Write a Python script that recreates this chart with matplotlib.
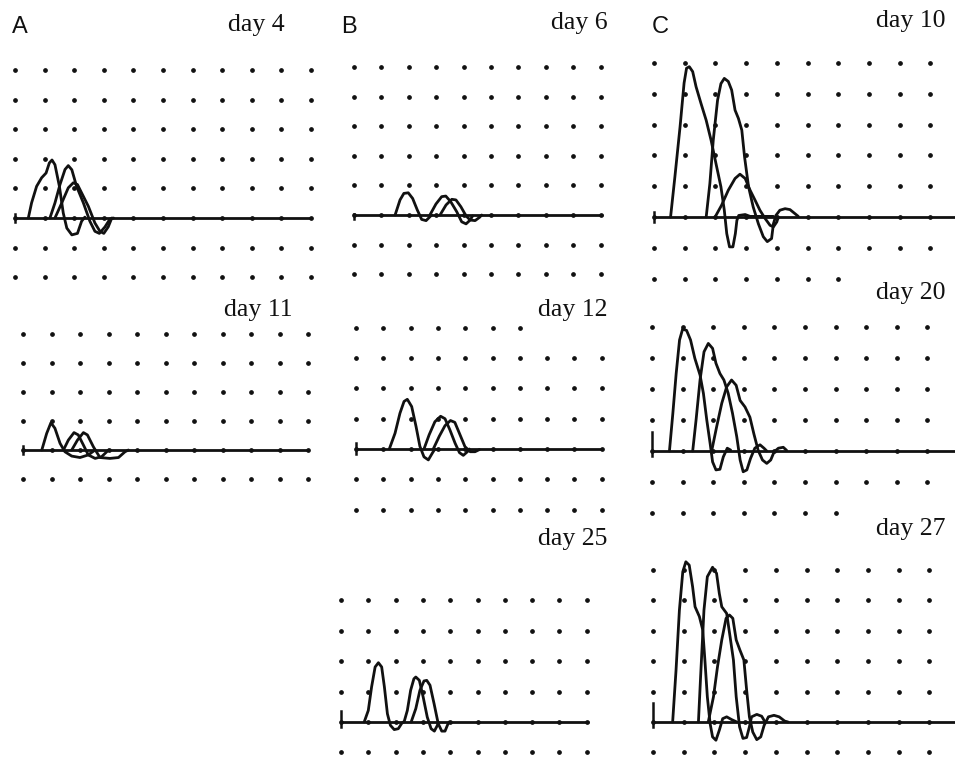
import matplotlib
matplotlib.use("Agg")
import matplotlib.pyplot as plt
import numpy as np

# ---------------- data: traces as (time-grid, amplitude-grid) points
D4_T1 = [(0.45,0),(0.56,0.51),(0.73,1.07),(0.9,1.36),(1.05,1.52),(1.16,1.86),(1.25,1.96),(1.35,1.8),(1.5,1.07),(1.63,0.17),(1.75,-0.34),(1.92,-0.57),(2.11,-0.52),(2.25,-0.11),(2.36,0.03)]
D4_T2 = [(1.18,0),(1.35,0.51),(1.52,1.13),(1.69,1.64),(1.8,1.77),(1.92,1.63),(2.08,1.07),(2.31,0.51),(2.53,-0.11),(2.7,-0.45),(2.85,-0.52),(3.04,-0.3),(3.21,-0.03),(3.33,0)]
D4_T3 = [(1.35,0),(1.58,0.51),(1.8,1.02),(1.97,1.19),(2.11,1.13),(2.31,0.73),(2.48,0.39),(2.7,-0.17),(2.87,-0.45),(3.0,-0.52),(3.15,-0.3),(3.27,0)]

D11_T1 = [(0.66,0),(0.83,0.57),(0.98,0.94),(1.12,0.75),(1.3,0.23),(1.47,-0.06),(1.71,-0.21),(2.0,-0.26),(2.29,-0.17),(2.53,0)]
D11_T2 = [(1.42,0),(1.59,0.34),(1.79,0.6),(1.94,0.52),(2.12,0.17),(2.29,-0.17),(2.53,-0.29),(2.76,-0.23),(2.94,-0.06),(3.0,0)]
D11_T3 = [(1.71,0),(1.91,0.34),(2.12,0.6),(2.26,0.52),(2.47,0.11),(2.7,-0.26),(3.05,-0.29),(3.35,-0.26),(3.58,-0.06),(3.7,0)]

D6_T1 = [(1.5,0),(1.68,0.51),(1.82,0.73),(1.98,0.75),(2.14,0.56),(2.31,0.17),(2.47,-0.15),(2.63,-0.19),(2.77,-0.06),(2.83,0)]
D6_T2 = [(2.77,0),(2.99,0.37),(3.2,0.62),(3.35,0.64),(3.53,0.45),(3.75,0.11),(3.93,-0.23),(4.09,-0.3),(4.24,-0.17),(4.33,-0.03)]
D6_T3 = [(3.14,0),(3.36,0.34),(3.57,0.53),(3.72,0.51),(3.9,0.28),(4.09,-0.03),(4.24,-0.17),(4.42,-0.19),(4.58,-0.08),(4.66,0)]

D12_T1 = [(1.22,0),(1.43,0.52),(1.61,1.18),(1.76,1.57),(1.88,1.64),(2.04,1.4),(2.2,0.74),(2.34,0.09),(2.49,-0.26),(2.65,-0.36),(2.8,-0.13),(2.89,0)]
D12_T2 = [(2.49,0),(2.68,0.47),(2.89,0.9),(3.1,1.08),(3.26,1.0),(3.44,0.63),(3.63,0.19),(3.79,-0.12),(3.93,-0.21),(4.08,-0.09),(4.15,0)]
D12_T3 = [(2.83,0),(3.05,0.42),(3.26,0.77),(3.46,0.94),(3.62,0.88),(3.81,0.47),(3.99,0.08),(4.18,-0.09),(4.36,-0.09),(4.52,-0.02)]

D25_T1 = [(0.85,0),(1.0,0.38),(1.12,1.15),(1.25,1.81),(1.37,1.95),(1.49,1.81),(1.59,1.15),(1.7,0.27),(1.81,-0.11),(1.95,-0.25),(2.1,-0.22),(2.22,-0.05),(2.28,0)]
D25_T2 = [(2.31,0),(2.43,0.38),(2.55,1.04),(2.67,1.42),(2.74,1.48),(2.87,1.37),(3.01,0.82),(3.16,0.16),(3.3,-0.22),(3.42,-0.3),(3.53,-0.11),(3.56,0)]
D25_T3 = [(2.57,0),(2.74,0.44),(2.89,1.04),(3.04,1.35),(3.14,1.37),(3.26,1.21),(3.41,0.6),(3.56,-0.05),(3.69,-0.3),(3.81,-0.3),(3.91,-0.08),(3.96,0)]

D10_T1 = [(0.54,0),(0.68,1.3),(0.85,2.94),(0.98,4.35),(1.06,4.83),(1.15,4.88),(1.26,4.72),(1.37,4.23),(1.53,3.69),(1.7,3.14),(1.86,2.49),(2.02,1.73),(2.18,0.98),(2.29,0.22),(2.37,-0.54),(2.46,-0.97),(2.57,-0.97),(2.65,-0.54),(2.7,-0.11),(2.76,0.05),(2.97,0.08),(3.13,0.02),(3.89,0.02)]
D10_T2 = [(1.7,0),(1.82,1.09),(1.93,2.49),(2.07,3.79),(2.18,4.33),(2.29,4.5),(2.42,4.4),(2.53,4.12),(2.64,3.47),(2.75,3.2),(2.86,2.82),(2.95,1.95),(3.08,0.98),(3.23,0.33),(3.4,-0.22),(3.56,-0.64),(3.69,-0.8),(3.83,-0.7),(3.89,-0.22),(3.97,0.05),(4.1,0.22),(4.27,0.27),(4.43,0.24),(4.59,0.11),(4.7,0.02)]
D10_T3 = [(1.99,0),(2.2,0.38),(2.42,0.87),(2.64,1.25),(2.8,1.39),(2.97,1.25),(3.13,0.87),(3.29,0.55),(3.45,0.22),(3.62,-0.05),(3.78,-0.27),(3.89,-0.32),(4.0,-0.16),(4.05,0)]

D20_T1 = [(0.57,0),(0.68,1.2),(0.79,2.5),(0.9,3.58),(1.0,3.93),(1.13,3.89),(1.26,3.58),(1.4,2.99),(1.57,2.45),(1.68,1.86),(1.79,1.0),(1.9,0.24),(1.98,-0.35),(2.09,-0.61),(2.22,-0.59),(2.33,-0.19),(2.46,0.09),(2.57,0.03)]
D20_T2 = [(1.33,0),(1.44,1.0),(1.57,2.29),(1.7,3.2),(1.84,3.47),(1.98,3.31),(2.09,2.83),(2.22,2.5),(2.35,2.29),(2.49,1.86),(2.63,1.22),(2.77,0.46),(2.88,-0.29),(2.98,-0.67),(3.1,-0.61),(3.22,-0.24),(3.36,0.09),(3.53,0.2),(3.66,0.09),(3.75,0)]
D20_T3 = [(1.95,0),(2.11,0.77),(2.28,1.54),(2.44,2.07),(2.6,2.29),(2.75,2.12),(2.88,1.63),(3.04,1.42),(3.2,1.09),(3.33,0.55),(3.47,0.02),(3.61,-0.29),(3.75,-0.4),(3.88,-0.29),(3.99,-0.03),(4.13,0.09),(4.29,0.12),(4.4,0.02)]

D27_T1 = [(0.64,0),(0.75,1.7),(0.86,3.68),(0.97,4.94),(1.07,5.27),(1.18,5.16),(1.29,4.45),(1.37,3.79),(1.51,3.47),(1.62,3.03),(1.69,2.04),(1.77,0.83),(1.86,-0.05),(1.94,-0.49),(2.05,-0.6),(2.16,-0.27),(2.27,0.11),(2.4,0.17),(2.56,0.08),(2.73,0)]
D27_T2 = [(1.48,0),(1.55,1.48),(1.66,3.68),(1.77,4.78),(1.94,5.09),(2.07,4.89),(2.16,4.23),(2.24,3.79),(2.4,3.57),(2.51,2.81),(2.62,2.04),(2.71,0.83),(2.82,-0.16),(2.93,-0.54),(3.05,-0.51),(3.14,-0.16),(3.21,0.17),(3.38,0.25),(3.54,0.19),(3.65,0)]
D27_T3 = [(1.8,0),(1.97,0.83),(2.1,1.81),(2.24,2.7),(2.38,3.41),(2.49,3.52),(2.6,3.41),(2.71,2.7),(2.83,2.37),(2.96,2.04),(3.05,1.05),(3.14,0.17),(3.25,-0.33),(3.38,-0.58),(3.51,-0.49),(3.62,-0.11),(3.76,0.17),(3.94,0.22),(4.11,0.17),(4.29,0.03),(4.4,0)]

DAY_LABELS = ["day 4", "day 11", "day 6", "day 12", "day 25", "day 10", "day 20", "day 27"]
PANEL_LETTERS = ["A", "B", "C"]

# ---------------- layout (pixels)
W, H = 955, 757
fig = plt.figure(figsize=(W/100, H/100), dpi=100)
fig.patch.set_facecolor("white")

# x0, sx, base, sy, ncols, rows, {row: ncols_shown}, baseline_end, tick_top, label_right, label_base
panels = [
    (D4_T1, D4_T2, D4_T3, 15, 29.6, 218, 29.6, 11, range(-2, 6), {}, 10, 0.15, 285, 31),
    (D11_T1, D11_T2, D11_T3, 23, 28.5, 450, 29.0, 11, range(-1, 5), {}, 10, 0.15, 292, 316),
    (D6_T1, D6_T2, D6_T3, 354, 27.4, 215, 29.6, 10, range(-2, 6), {}, 9.05, 0.05, 608, 29),
    (D12_T1, D12_T2, D12_T3, 356, 27.3, 449, 30.3, 10, range(-2, 5), {4: 7}, 9.0, 0.2, 607, 316),
    (D25_T1, D25_T2, D25_T3, 341, 27.3, 722, 30.4, 10, range(-1, 5), {}, 9.05, 0.35, 607, 545),
    (D10_T1, D10_T2, D10_T3, 654, 30.7, 217, 30.8, 10, range(-2, 6), {-2: 7}, 9.9, 0.15, 945, 27),
    (D20_T1, D20_T2, D20_T3, 652, 30.6, 451, 31.0, 10, range(-2, 5), {-2: 7}, 9.9, 0.6, 945, 299),
    (D27_T1, D27_T2, D27_T3, 653, 30.7, 722, 30.4, 10, range(-1, 6), {}, 9.9, 0.62, 945, 535),
]

ink = "#111111"
for i, (t1, t2, t3, x0, sx, base, sy, ncols, rows, trunc, bend, tick, lr, lb) in enumerate(panels):
    xmin, xmax = -0.5, ncols - 0.5 + 0.6
    ymin, ymax = min(rows) - 0.4, max(rows) + 0.4
    left = (x0 + xmin * sx) / W
    width = (xmax - xmin) * sx / W
    bottom = 1 - (base - ymin * sy) / H
    height = (ymax - ymin) * sy / H
    ax = fig.add_axes([left, bottom, width, height])
    ax.set_xlim(xmin, xmax)
    ax.set_ylim(ymin, ymax)
    ax.axis("off")
    # dotted grid
    for r in rows:
        n = trunc.get(r, ncols)
        cols = np.arange(n)
        ax.plot(cols, np.full(n, r), ls="none", marker="o", ms=2.4, color=ink, clip_on=False)
    # baseline and onset tick
    ax.plot([0, bend], [0, 0], color=ink, lw=2.0, solid_capstyle="round", clip_on=False)
    ax.plot([0, 0], [-0.15, tick], color=ink, lw=1.8, clip_on=False)
    for tr in (t1, t2, t3):
        xs = [p[0] for p in tr]
        ys = [p[1] for p in tr]
        ax.plot(xs, ys, color=ink, lw=2.0, solid_joinstyle="round",
                solid_capstyle="round", clip_on=False)
    fig.text(lr / W, 1 - lb / H, DAY_LABELS[i], ha="right", va="baseline",
             fontsize=18.5, family="Liberation Serif", color=ink)

for letter, lx in zip(PANEL_LETTERS, [12, 341, 652]):
    fig.text(lx / W, 1 - 33 / H, letter, ha="left", va="baseline",
             fontsize=17, family="Liberation Sans", color=ink)

fig.savefig("out.png", dpi=100, facecolor="white")
